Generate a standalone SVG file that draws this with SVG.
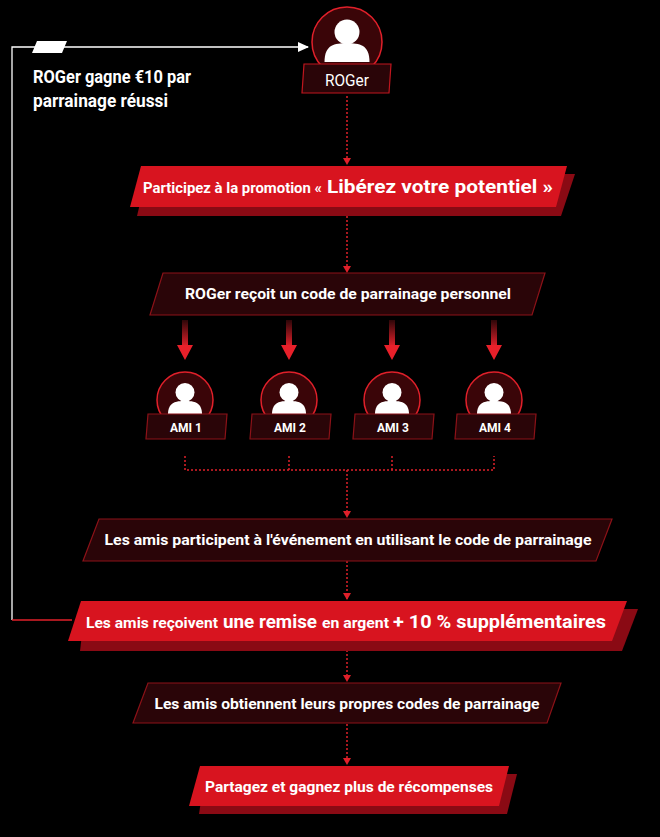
<svg xmlns="http://www.w3.org/2000/svg" width="660" height="837" viewBox="0 0 660 837">
<defs>
<style>
text{font-family:Roboto,"Liberation Sans",sans-serif;font-weight:bold;fill:#fff;text-anchor:middle}
.st{text-anchor:start}
.red{fill:#d8141f}
.sh{fill:#8a0a14}
.dk{fill:#2a0508;stroke:#8c1218;stroke-width:1.2}
.dot{stroke:#e0202a;stroke-width:1.5;stroke-dasharray:2 2;fill:none}
.circ{fill:#3a0508;stroke:#e0202a;stroke-width:1.5}
</style>
<marker id="ah" markerWidth="8" markerHeight="8" refX="6" refY="4" orient="auto" markerUnits="userSpaceOnUse"><path d="M0,0 L7,4 L0,8Z" fill="#e0202a"/></marker>
<marker id="aw" markerWidth="12" markerHeight="10" refX="10" refY="5" orient="auto" markerUnits="userSpaceOnUse"><path d="M0,0 L11,5 L0,10Z" fill="#fff"/></marker>
<linearGradient id="ag" x1="0" y1="0" x2="0" y2="1"><stop offset="0" stop-color="#e0202a" stop-opacity="0.2"/><stop offset="1" stop-color="#e0202a"/></linearGradient>
<g id="person"><circle cx="0" cy="-8" r="10" fill="#fff"/><path d="M-18,16 C-18,2 -10,1 0,1 C10,1 18,2 18,16Z" fill="#fff"/></g>
</defs>
<rect width="660" height="837" fill="#000"/>
<g id="connectors">
<path d="M12,620 L12,47 L308,47" stroke="#fff" stroke-width="1.3" fill="none" marker-end="url(#aw)"/>
<path d="M12,620 L72,620" stroke="#e0202a" stroke-width="1.3" fill="none"/>
<polygon points="37,41 67,41 62,53 32,53" fill="#fff"/>
<line class="dot" x1="347" y1="96" x2="347" y2="164" marker-end="url(#ah)"/>
<line class="dot" x1="347" y1="208" x2="347" y2="272" marker-end="url(#ah)"/>
<g fill="url(#ag)">
<rect x="182" y="320" width="6" height="26"/><rect x="286" y="320" width="6" height="26"/><rect x="389" y="320" width="6" height="26"/><rect x="491" y="320" width="6" height="26"/>
</g>
<g fill="#e8202a">
<path d="M177,345 L193,345 L185,360Z"/><path d="M281,345 L297,345 L289,360Z"/><path d="M384,345 L400,345 L392,360Z"/><path d="M486,345 L502,345 L494,360Z"/>
</g>
<path class="dot" d="M185,456 L185,470 L494,470 L494,456 M289,456 L289,470 M392,456 L392,470"/>
<line class="dot" x1="347" y1="470" x2="347" y2="517" marker-end="url(#ah)"/>
<line class="dot" x1="347" y1="561" x2="347" y2="599" marker-end="url(#ah)"/>
<line class="dot" x1="347" y1="650" x2="347" y2="681" marker-end="url(#ah)"/>
<line class="dot" x1="347" y1="724" x2="347" y2="764" marker-end="url(#ah)"/>
</g>
<text class="st" x="33" y="83" font-size="18" textLength="158" lengthAdjust="spacingAndGlyphs">ROGer gagne €10 par</text>
<text class="st" x="33" y="107" font-size="18" textLength="135" lengthAdjust="spacingAndGlyphs">parrainage réussi</text>
<g id="roger">
<circle class="circ" cx="347" cy="42" r="35"/>
<use href="#person" transform="translate(347,42) scale(1.25)"/>
<polygon class="dk" points="304,64 391,64 389,93 302,93" style="stroke:#c0161e"/>
<text x="347" y="86" font-size="17" style="font-weight:normal" textLength="44" lengthAdjust="spacingAndGlyphs">ROGer</text>
</g>
<g id="box1">
<polygon class="sh" points="147,174 575,174 561,216 137,216"/>
<polygon class="red" points="141,166 567,166 556,207 130,207"/>
<text class="st" x="143" y="193" font-size="15" textLength="179" lengthAdjust="spacingAndGlyphs">Participez à la promotion «</text>
<text class="st" x="327" y="193" font-size="19" textLength="226" lengthAdjust="spacingAndGlyphs">Libérez votre potentiel »</text>
</g>
<g id="box2">
<polygon class="dk" points="163,273 545,273 532,315 150,315"/>
<text x="348" y="299" font-size="15" textLength="326" lengthAdjust="spacingAndGlyphs">ROGer reçoit un code de parrainage personnel</text>
</g>
<g id="ami1"><circle class="circ" cx="185" cy="400" r="28"/><use href="#person" transform="translate(185,400) scale(0.95)"/><polygon class="dk" points="148,414 227,414 225,439 146,439"/><text x="186" y="432" font-size="12">AMI 1</text></g>
<g id="ami2"><circle class="circ" cx="289" cy="400" r="28"/><use href="#person" transform="translate(289,400) scale(0.95)"/><polygon class="dk" points="252,414 331,414 329,439 250,439"/><text x="290" y="432" font-size="12">AMI 2</text></g>
<g id="ami3"><circle class="circ" cx="392" cy="400" r="28"/><use href="#person" transform="translate(392,400) scale(0.95)"/><polygon class="dk" points="355,414 434,414 432,439 353,439"/><text x="393" y="432" font-size="12">AMI 3</text></g>
<g id="ami4"><circle class="circ" cx="494" cy="400" r="28"/><use href="#person" transform="translate(494,400) scale(0.95)"/><polygon class="dk" points="457,414 536,414 534,439 455,439"/><text x="495" y="432" font-size="12">AMI 4</text></g>
<g id="box3">
<polygon class="dk" points="99,519 612,519 596,561 83,561"/>
<text x="348" y="545" font-size="15" textLength="487" lengthAdjust="spacingAndGlyphs">Les amis participent à l'événement en utilisant le code de parrainage</text>
</g>
<g id="box4">
<polygon class="sh" points="85,609 638,609 622,651 80,651"/>
<polygon class="red" points="81,601 627,601 612,641 68,641"/>
<text class="st" x="86" y="628" font-size="15" textLength="132" lengthAdjust="spacingAndGlyphs">Les amis reçoivent</text>
<text class="st" x="223" y="628" font-size="19" textLength="94" lengthAdjust="spacingAndGlyphs">une remise</text>
<text class="st" x="322" y="628" font-size="15" textLength="67" lengthAdjust="spacingAndGlyphs">en argent</text>
<text class="st" x="393" y="628" font-size="19" textLength="213" lengthAdjust="spacingAndGlyphs">+ 10 % supplémentaires</text>
</g>
<g id="box5">
<polygon class="dk" points="148,683 561,683 547,723 133,723"/>
<text x="347" y="709" font-size="15" textLength="385" lengthAdjust="spacingAndGlyphs">Les amis obtiennent leurs propres codes de parrainage</text>
</g>
<g id="box6">
<polygon class="sh" points="205,774 517,774 507,814 199,814"/>
<polygon class="red" points="200,766 509,766 499,806 189,806"/>
<text x="349" y="792" font-size="15" textLength="288" lengthAdjust="spacingAndGlyphs">Partagez et gagnez plus de récompenses</text>
</g>
</svg>
